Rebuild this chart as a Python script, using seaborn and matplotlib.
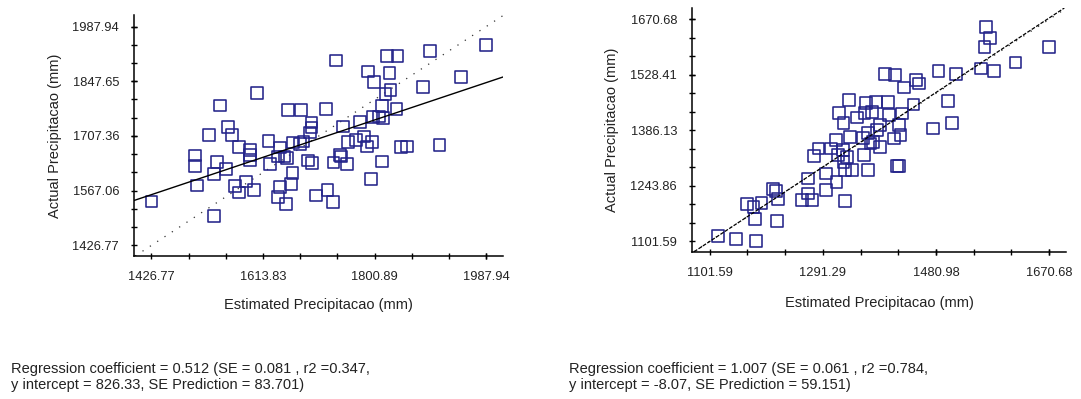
import matplotlib
matplotlib.use("Agg")
import matplotlib.pyplot as plt
from matplotlib.ticker import FixedLocator, AutoMinorLocator, FormatStrFormatter
import seaborn as sns
import pandas as pd

# --- data ---
left_est = [1426.8, 1500.0, 1500.0, 1502.9, 1523.1, 1531.7, 1536.3, 1531.7, 1542.1, 1551.9,
            1554.8, 1561.7, 1573.8, 1566.3, 1573.8, 1585.4, 1592.3, 1592.3, 1592.3, 1599.2,
            1603.8, 1622.8, 1625.7, 1642.5, 1638.4, 1649.9, 1653.9, 1642.5, 1638.4, 1651.7,
            1660.4, 1663.2, 1655.7, 1677.1, 1664.4, 1675.9, 1681.7, 1694.9, 1694.9, 1692.0,
            1689.1, 1696.1, 1703.0, 1719.2, 1722.0, 1730.7, 1731.8, 1736.4, 1742.2, 1745.1,
            1748.0, 1756.6, 1754.9, 1769.3, 1776.8, 1782.6, 1788.4, 1797.0, 1794.1, 1790.1,
            1799.9, 1798.7, 1808.5, 1814.3, 1813.1, 1818.9, 1825.8, 1827.5, 1821.2, 1839.1,
            1837.4, 1813.1, 1844.9, 1854.7, 1882.4, 1894.0, 1909.5, 1945.2, 1987.9]
left_act = [1539.5, 1657.4, 1630.9, 1580.5, 1709.5, 1609.6, 1640.3, 1501.1, 1785.5, 1622.4,
            1730.8, 1709.5, 1678.8, 1578.0, 1562.6, 1590.8, 1671.9, 1659.1, 1646.3, 1569.4,
            1817.9, 1694.0, 1635.2, 1677.9, 1654.8, 1654.8, 1650.6, 1576.3, 1550.6, 1533.6,
            1584.9, 1612.1, 1774.4, 1774.4, 1690.7, 1687.3, 1693.3, 1742.0, 1729.1, 1716.3,
            1644.6, 1637.8, 1554.9, 1777.0, 1569.4, 1537.8, 1639.5, 1900.8, 1659.1, 1654.8,
            1731.7, 1691.6, 1635.2, 1697.5, 1742.8, 1706.1, 1680.5, 1691.6, 1597.6, 1872.6,
            1845.3, 1755.6, 1757.3, 1753.1, 1784.7, 1814.6, 1868.4, 1825.7, 1912.8, 1912.8,
            1776.1, 1642.0, 1678.8, 1680.5, 1832.5, 1925.6, 1684.7, 1858.1, 1941.0]

right_est = [1115.5, 1146.2, 1179.8, 1163.6, 1175.2, 1178.1, 1188.5, 1208.2, 1212.9, 1215.8,
             1214.0, 1256.3, 1266.8, 1266.8, 1273.7, 1276.6, 1284.1, 1296.9, 1296.9, 1304.4,
             1313.1, 1314.2, 1317.1, 1318.9, 1325.9, 1328.8, 1324.7, 1325.9, 1328.8, 1334.6,
             1336.3, 1331.7, 1340.6, 1348.1, 1360.9, 1363.5, 1366.5, 1367.6, 1374.0, 1371.1,
             1375.1, 1380.9, 1382.7, 1386.7, 1395.4, 1400.0, 1402.4, 1412.4, 1410.9, 1418.6,
             1421.5, 1424.4, 1415.7, 1418.6, 1427.3, 1443.5, 1447.6, 1452.2, 1476.5, 1485.2,
             1501.5, 1508.4, 1514.2, 1556.5, 1562.3, 1564.6, 1572.2, 1578.0, 1614.5, 1670.7,
             1361.3, 1387.0, 1359.0]
right_act = [1115.3, 1108.4, 1101.6, 1196.6, 1189.7, 1159.8, 1200.0, 1236.8, 1230.8, 1209.4,
             1152.9, 1206.9, 1262.5, 1224.0, 1206.9, 1319.8, 1339.5, 1275.3, 1232.5, 1339.5,
             1360.9, 1253.9, 1322.4, 1431.1, 1405.4, 1204.3, 1335.2, 1305.3, 1283.9, 1463.6,
             1369.5, 1318.1, 1283.9, 1419.1, 1322.4, 1456.7, 1379.7, 1283.9, 1433.6, 1352.3,
             1356.6, 1459.3, 1386.6, 1343.8, 1530.3, 1459.3, 1425.1, 1527.8, 1365.2, 1399.4,
             1373.7, 1429.3, 1295.0, 1295.0, 1496.1, 1452.5, 1514.9, 1506.4, 1390.8, 1538.0,
             1461.0, 1405.4, 1530.3, 1544.9, 1600.5, 1651.9, 1623.6, 1538.0, 1560.3, 1600.5,
             1430.8, 1400.8, 1366.0]

left_xticks = [1426.77, 1613.83, 1800.89, 1987.94]
left_yticks = [1426.77, 1567.06, 1707.36, 1847.65, 1987.94]
right_xticks = [1101.59, 1291.29, 1480.98, 1670.68]
right_yticks = [1101.59, 1243.86, 1386.13, 1528.41, 1670.68]

left_fit = dict(slope=0.512, intercept=826.33)
right_fit = dict(slope=1.007, intercept=-8.07)

left_note = ["Regression coefficient = 0.512 (SE = 0.081 , r2 =0.347,",
             "y intercept = 826.33, SE Prediction = 83.701)"]
right_note = ["Regression coefficient = 1.007 (SE = 0.061 , r2 =0.784,",
              "y intercept = -8.07, SE Prediction = 59.151)"]

sns.set_style("ticks")
plt.rcParams['font.family'] = ['Liberation Sans', 'DejaVu Sans']

W, H = 1081, 399
fig = plt.figure(figsize=(W / 100, H / 100), dpi=100)

square_color = '#24248a'


def panel(rect, est, act, xticks, yticks, xlim, ylim, fit, identity_style, fit_style, lab_x, lab_y):
    ax = fig.add_axes(rect)
    df = pd.DataFrame({'est': est, 'act': act})
    sns.scatterplot(data=df, x='est', y='act', ax=ax, marker='s', s=72,
                    color=square_color, facecolor='none', edgecolor=square_color,
                    linewidth=1.15, zorder=3)
    # 1:1 line and regression line
    ax.axline((xticks[0], xticks[0]), slope=1.0, color='#333333', zorder=2, **identity_style)
    ax.axline((0, fit['intercept']), slope=fit['slope'], color='black', zorder=4, **fit_style)
    ax.set_xlim(*xlim)
    ax.set_ylim(*ylim)
    ax.xaxis.set_major_locator(FixedLocator(xticks))
    ax.yaxis.set_major_locator(FixedLocator(yticks))
    ax.xaxis.set_minor_locator(AutoMinorLocator(3))
    ax.yaxis.set_minor_locator(AutoMinorLocator(3))
    ax.xaxis.set_major_formatter(FormatStrFormatter('%.2f'))
    ax.yaxis.set_major_formatter(FormatStrFormatter('%.2f'))
    ax.tick_params(which='both', direction='inout', length=4.5, width=1.0,
                   color='black', pad=8.5, labelsize=9.3, labelcolor='#222222')
    sns.despine(ax=ax)
    for side in ['left', 'bottom']:
        ax.spines[side].set_linewidth(1.1)
        ax.spines[side].set_color('black')
    ax.set_xlabel('Estimated Precipitacao (mm)', fontsize=10.5, color='#222222')
    ax.set_ylabel('Actual Precipitacao (mm)', fontsize=10.5, color='#222222')
    ax.xaxis.label.set_va('center')
    ax.yaxis.label.set_va('center')
    ax.xaxis.set_label_coords(0.5, lab_x)
    ax.yaxis.set_label_coords(lab_y, 0.5)
    return ax


panel([134 / W, 1 - 256 / H, 369 / W, 241 / H], left_est, left_act,
      left_xticks, left_yticks, (1397.5, 2016.0), (1399.5, 2017.5), left_fit,
      dict(linestyle=(0, (1, 6)), linewidth=0.9), dict(linestyle='-', linewidth=1.0),
      -0.203, -0.214)

panel([692 / W, 1 - 251.7 / H, 374 / W, 243.7 / H], right_est, right_act,
      right_xticks, right_yticks, (1072.0, 1699.0), (1075.0, 1700.0), right_fit,
      dict(linestyle=(0, (1, 6)), linewidth=0.9), dict(linestyle=(0, (3, 1.2)), linewidth=0.9),
      -0.212, -0.213)

for x0, lines in [(11, left_note), (569, right_note)]:
    for y0, line in zip([369, 385], lines):
        fig.text(x0 / W, 1 - y0 / H, line, fontsize=10.5, color='#222222',
                 ha='left', va='center')

fig.savefig('out.png', dpi=100)
